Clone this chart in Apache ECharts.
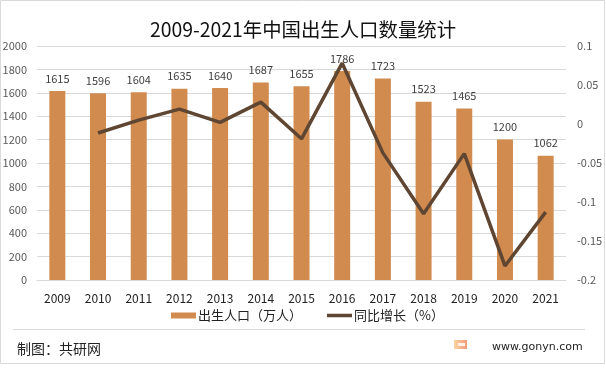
<!DOCTYPE html>
<html>
<head>
<meta charset="utf-8">
<style>
html, body { margin: 0; padding: 0; background: #fff; }
#chart { width: 606px; height: 375px; }
</style>
<script src="https://cdn.jsdelivr.net/npm/echarts@6/dist/echarts.min.js"></script>
</head>
<body>
<div id="chart"></div>
<script>
var years = ['2009', '2010', '2011', '2012', '2013', '2014', '2015', '2016', '2017', '2018', '2019', '2020', '2021'];
var births = [1615, 1596, 1604, 1635, 1640, 1687, 1655, 1786, 1723, 1523, 1465, 1200, 1062];
var growth = [null, -0.0115, 0.005, 0.019, 0.002, 0.028, -0.019, 0.078, -0.037, -0.115, -0.038, -0.182, -0.113];
var leftTicks = [0, 200, 400, 600, 800, 1000, 1200, 1400, 1600, 1800, 2000];
var barName = '出生人口（万人）';
var lineName = '同比增长（%）';

var font = '"Noto Sans CJK SC", "Noto Sans", sans-serif';
var chart = echarts.init(document.getElementById('chart'));
var option = {
    animation: false,
    textStyle: { fontFamily: font },
    title: {
        text: '2009-2021年中国出生人口数量统计',
        left: 'center',
        top: 15,
        textStyle: { fontSize: 19.4, fontWeight: 'normal', color: '#111', fontFamily: font }
    },
    legend: {
        data: [
            { name: barName, icon: 'rect', itemStyle: { color: '#D18B4F' } },
            // 图例线条比柱形色块细，用路径画
            { name: lineName, icon: 'path://M0 0L0 0ZM0 1.3H25V4.7H0ZM25 6L25 6Z', itemStyle: { color: '#5F4632', borderWidth: 0 }, lineStyle: { width: 0 } }
        ],
        top: 304,
        left: 166,
        itemWidth: 25,
        itemHeight: 6,
        itemGap: 25,
        textStyle: { fontSize: 13, color: '#222', fontFamily: font, padding: [0, 0, 0, -3] }
    },
    // 不让标签挤压绘图区
    grid: { left: 37, right: 40, top: 46, bottom: 95, outerBoundsMode: 'none' },
    xAxis: {
        type: 'category',
        data: years,
        axisTick: { show: false },
        axisLine: { lineStyle: { color: '#D9D9D9', width: 1 } },
        axisLabel: { fontSize: 12, color: '#222', margin: 12 }
    },
    yAxis: [{
        type: 'value',
        min: leftTicks[0],
        max: leftTicks[leftTicks.length - 1],
        interval: 200,
        axisLine: { show: false },
        axisTick: { show: false },
        axisLabel: {
            fontSize: 11,
            color: '#595959',
            margin: 10,
            formatter: function (v) { return String(v); }
        },
        splitLine: { lineStyle: { color: '#D9D9D9', width: 1 } }
    }, {
        type: 'value',
        min: -0.2,
        max: 0.1,
        interval: 0.05,
        axisLine: { show: false },
        axisTick: { show: false },
        axisLabel: {
            fontSize: 11,
            color: '#595959',
            margin: 11,
            formatter: function (v) { return String(Math.round(v * 100) / 100); }
        },
        splitLine: { show: false }
    }],
    series: [{
        name: barName,
        type: 'bar',
        data: births,
        barWidth: 16,
        itemStyle: { color: '#D18B4F' },
        label: { show: true, position: 'top', distance: 7, fontSize: 11, color: '#404040' }
    }, {
        name: lineName,
        type: 'line',
        yAxisIndex: 1,
        data: growth,
        symbol: 'none',
        connectNulls: false,
        lineStyle: { color: '#5F4632', width: 3.5 },
        itemStyle: { color: '#5F4632' }
    }],
    graphic: [
        { type: 'rect', shape: { x: 0.5, y: 0.5, width: 604, height: 363 }, style: { fill: 'none', stroke: '#D9D9D9', lineWidth: 1 }, silent: true },
        { type: 'line', shape: { x1: 13, y1: 329.5, x2: 585, y2: 329.5 }, style: { stroke: '#D9D9D9', lineWidth: 1 }, silent: true },
        { type: 'text', left: 17, top: 342, style: { text: '制图：共研网', font: '14px ' + font, fill: '#222' } },
        { type: 'text', left: 492, top: 342, style: { text: 'www.gonyn.com', font: '11px "DejaVu Sans"', fill: '#222' } },
        {
            type: 'rect',
            shape: { x: 454, y: 340, width: 13, height: 9 },
            style: { fill: new echarts.graphic.LinearGradient(0, 0, 1, 0, [{ offset: 0, color: '#FBD3A0' }, { offset: 1, color: '#F29A7A' }]) },
            silent: true
        },
        { type: 'rect', shape: { x: 458, y: 343, width: 7, height: 3 }, style: { fill: '#FFF1E6' }, silent: true }
    ]
};
chart.setOption(option);
</script>
</body>
</html>
